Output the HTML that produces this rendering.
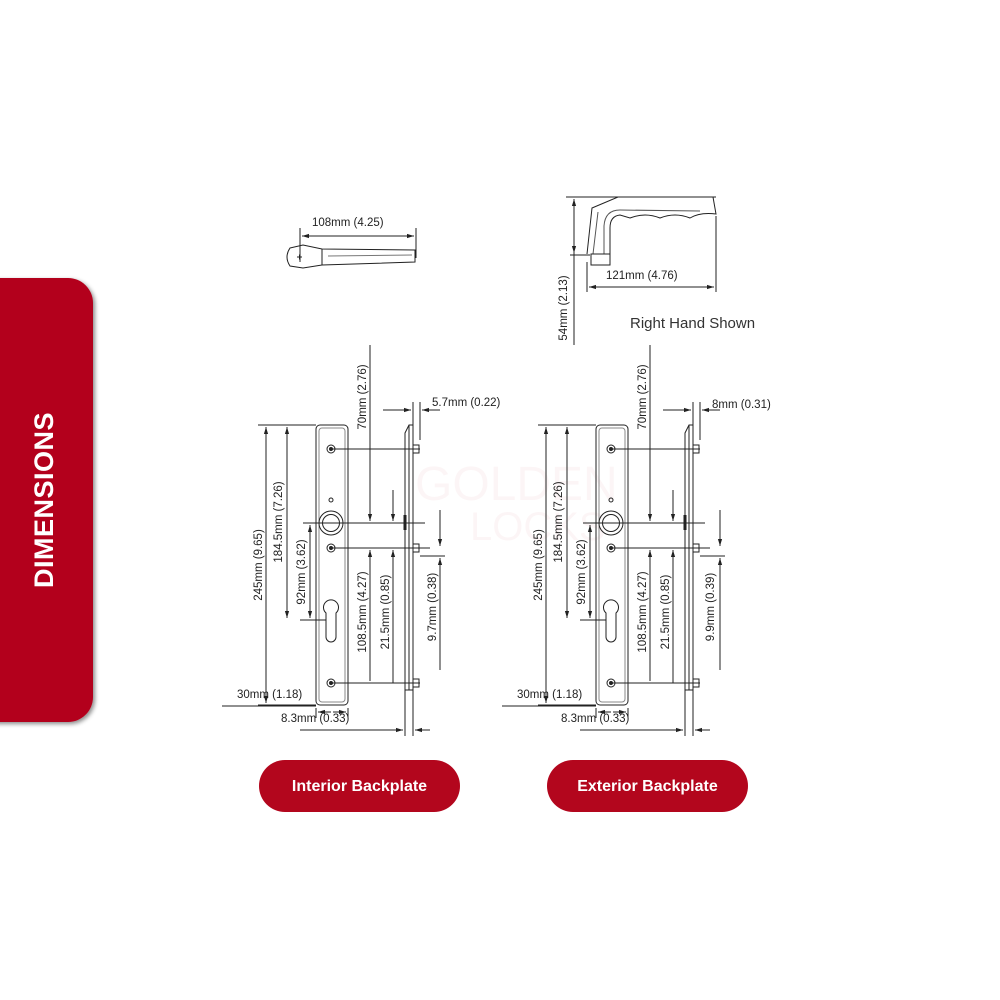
<!DOCTYPE html>
<html><head><meta charset="utf-8"><style>
html,body{margin:0;padding:0;background:#fff;width:1000px;height:1000px;overflow:hidden}
svg{display:block}
text{font-family:"Liberation Sans",Arial,sans-serif}
</style></head><body>
<svg width="1000" height="1000" viewBox="0 0 1000 1000" xmlns="http://www.w3.org/2000/svg">
<defs>
<marker id="a" viewBox="0 0 10 10" refX="10" refY="5" markerWidth="7" markerHeight="7" orient="auto-start-reverse"><path d="M0,2 L10,5 L0,8 z" fill="#222"/></marker>
<filter id="sh" x="-20%" y="-10%" width="140%" height="120%"><feDropShadow dx="2" dy="2" stdDeviation="2" flood-color="#000" flood-opacity="0.45"/></filter>
<g id="plate" stroke="#222" stroke-width="1" fill="none">
  <rect x="316" y="425" width="32" height="280" rx="4"/>
  <rect x="319" y="428" width="26" height="274" rx="3" stroke="#888"/>
  <circle cx="331" cy="449" r="4"/><circle cx="331" cy="449" r="1.5" fill="#222"/>
  <circle cx="331" cy="548" r="4"/><circle cx="331" cy="548" r="1.5" fill="#222"/>
  <circle cx="331" cy="683" r="4"/><circle cx="331" cy="683" r="1.5" fill="#222"/>
  <circle cx="331" cy="500" r="2"/>
  <circle cx="331" cy="523" r="12"/><circle cx="331" cy="523" r="8.5"/>
  <path d="M326,613 A7.5,7.5 0 1 1 336,613 L336,637 A5,5 0 0 1 326,637 Z"/>
  <path d="M405,433 L409,425 L413,425 L413,690 L405,690 Z"/>
  <line x1="409" y1="425" x2="409" y2="690"/>
  <rect x="413" y="445" width="6" height="8"/><rect x="413" y="544" width="6" height="8"/><rect x="413" y="679" width="6" height="8"/>
  <line x1="405" y1="515" x2="405" y2="530" stroke-width="3"/>
  <line x1="303" y1="523" x2="425" y2="523"/>
  <line x1="330" y1="449" x2="420" y2="449"/>
  <line x1="330" y1="548" x2="430" y2="548"/>
  <line x1="330" y1="683" x2="420" y2="683"/>
  <line x1="420" y1="556" x2="445" y2="556"/>
  <line x1="258" y1="425" x2="316" y2="425"/>
  <line x1="258" y1="705" x2="316" y2="705"/>
  <line x1="300" y1="620" x2="326" y2="620"/>
  <line x1="266" y1="427" x2="266" y2="703" marker-start="url(#a)" marker-end="url(#a)"/>
  <line x1="287" y1="427" x2="287" y2="618" marker-start="url(#a)" marker-end="url(#a)"/>
  <line x1="310" y1="525" x2="310" y2="618" marker-start="url(#a)" marker-end="url(#a)"/>
  <line x1="370" y1="345" x2="370" y2="521" marker-end="url(#a)"/>
  <line x1="370" y1="681" x2="370" y2="550" marker-end="url(#a)"/>
  <line x1="393" y1="490" x2="393" y2="521" marker-end="url(#a)"/>
  <line x1="393" y1="683" x2="393" y2="550" marker-end="url(#a)"/>
  <line x1="440" y1="510" x2="440" y2="546" marker-end="url(#a)"/>
  <line x1="440" y1="670" x2="440" y2="558" marker-end="url(#a)"/>
  <line x1="413" y1="402" x2="413" y2="430"/><line x1="420" y1="402" x2="420" y2="440"/>
  <line x1="383" y1="410" x2="411" y2="410" marker-end="url(#a)"/>
  <line x1="440" y1="410" x2="422" y2="410" marker-end="url(#a)"/>
  <line x1="316" y1="708" x2="316" y2="718"/><line x1="348" y1="708" x2="348" y2="718"/>
  <line x1="318" y1="712" x2="331" y2="712" marker-start="url(#a)"/>
  <line x1="333" y1="712" x2="346" y2="712" marker-end="url(#a)"/>
  <line x1="222" y1="706" x2="316" y2="706"/>
  <line x1="405" y1="690" x2="405" y2="736"/><line x1="413" y1="690" x2="413" y2="736"/>
  <line x1="300" y1="730" x2="403" y2="730" marker-end="url(#a)"/>
  <line x1="430" y1="730" x2="415" y2="730" marker-end="url(#a)"/>
</g>
<g id="lbl" font-size="11.5" fill="#222">
  <text transform="translate(262,565) rotate(-90)" text-anchor="middle">245mm (9.65)</text>
  <text transform="translate(282,522) rotate(-90)" text-anchor="middle">184.5mm (7.26)</text>
  <text transform="translate(305,572) rotate(-90)" text-anchor="middle">92mm (3.62)</text>
  <text transform="translate(366,397) rotate(-90)" text-anchor="middle">70mm (2.76)</text>
  <text transform="translate(366,612) rotate(-90)" text-anchor="middle">108.5mm (4.27)</text>
  <text transform="translate(389,612) rotate(-90)" text-anchor="middle">21.5mm (0.85)</text>
  <text x="237" y="698">30mm (1.18)</text>
  <text x="281" y="722">8.3mm (0.33)</text>
</g>
</defs>

<rect x="-30" y="278" width="123" height="444" rx="25" fill="#b3061d" filter="url(#sh)"/>
<text transform="translate(53,500) rotate(-90)" text-anchor="middle" font-size="27" font-weight="bold" fill="#fff" letter-spacing="0.5">DIMENSIONS</text>

<text x="415" y="500" font-size="48" fill="#b3061d" opacity="0.035">GOLDEN</text>
<text x="470" y="540" font-size="40" fill="#b3061d" opacity="0.035">LOCKS</text>

<g stroke="#222" fill="none" stroke-width="1">
  <line x1="300" y1="228" x2="300" y2="262"/><line x1="416" y1="228" x2="416" y2="258"/>
  <line x1="302" y1="236" x2="414" y2="236" marker-start="url(#a)" marker-end="url(#a)"/>
  <path d="M290,248 L303,245 L322,249 L415,250 L415,262 L322,265 L303,268 L290,266 Q284,257 290,248 Z"/>
  <line x1="322" y1="249" x2="322" y2="265"/>
  <path d="M328,256 L412,255" stroke="#777"/>
  <path d="M297,257 h5 M299.5,254.5 v5"/>
</g>
<text x="312" y="226" font-size="11.5" fill="#222">108mm (4.25)</text>

<g stroke="#222" fill="none" stroke-width="1">
  <line x1="566" y1="197" x2="716" y2="197"/>
  <line x1="570" y1="255" x2="590" y2="255"/>
  <line x1="574" y1="199" x2="574" y2="253" marker-start="url(#a)" marker-end="url(#a)"/>
  <line x1="574" y1="253" x2="574" y2="345"/>
  <path d="M587,254 L592,208 L618,197 L713,197 L716,214 Q700,212 690,218 Q675,212 660,218 Q645,212 630,218 L620,215 Q610,216 610,228 L610,254"/>
  <path d="M593,254 L598,212 M604,254 L604,226 Q605,210 620,210 L700,211" stroke="#555"/>
  <rect x="591" y="254" width="19" height="11"/>
  <line x1="587" y1="262" x2="587" y2="292"/><line x1="716" y1="216" x2="716" y2="292"/>
  <line x1="589" y1="287" x2="714" y2="287" marker-start="url(#a)" marker-end="url(#a)"/>
</g>
<text x="606" y="279" font-size="11.5" fill="#222">121mm (4.76)</text>
<text transform="translate(567,308) rotate(-90)" text-anchor="middle" font-size="11.5" fill="#222">54mm (2.13)</text>
<text x="630" y="328" font-size="15" fill="#333">Right Hand Shown</text>

<use href="#plate"/>
<use href="#lbl"/>
<text x="432" y="406" font-size="11.5" fill="#222">5.7mm (0.22)</text>
<text transform="translate(436,607) rotate(-90)" text-anchor="middle" font-size="11.5" fill="#222">9.7mm (0.38)</text>

<g transform="translate(280,0)"><use href="#plate"/><use href="#lbl"/></g>
<text x="712" y="408" font-size="11.5" fill="#222">8mm (0.31)</text>
<text transform="translate(714,607) rotate(-90)" text-anchor="middle" font-size="11.5" fill="#222">9.9mm (0.39)</text>

<rect x="259" y="760" width="201" height="52" rx="26" fill="#b3061d"/>
<text x="359.5" y="791" text-anchor="middle" font-size="16" font-weight="bold" fill="#fff">Interior Backplate</text>
<rect x="547" y="760" width="201" height="52" rx="26" fill="#b3061d"/>
<text x="647.5" y="791" text-anchor="middle" font-size="16" font-weight="bold" fill="#fff">Exterior Backplate</text>
</svg>
</body></html>
